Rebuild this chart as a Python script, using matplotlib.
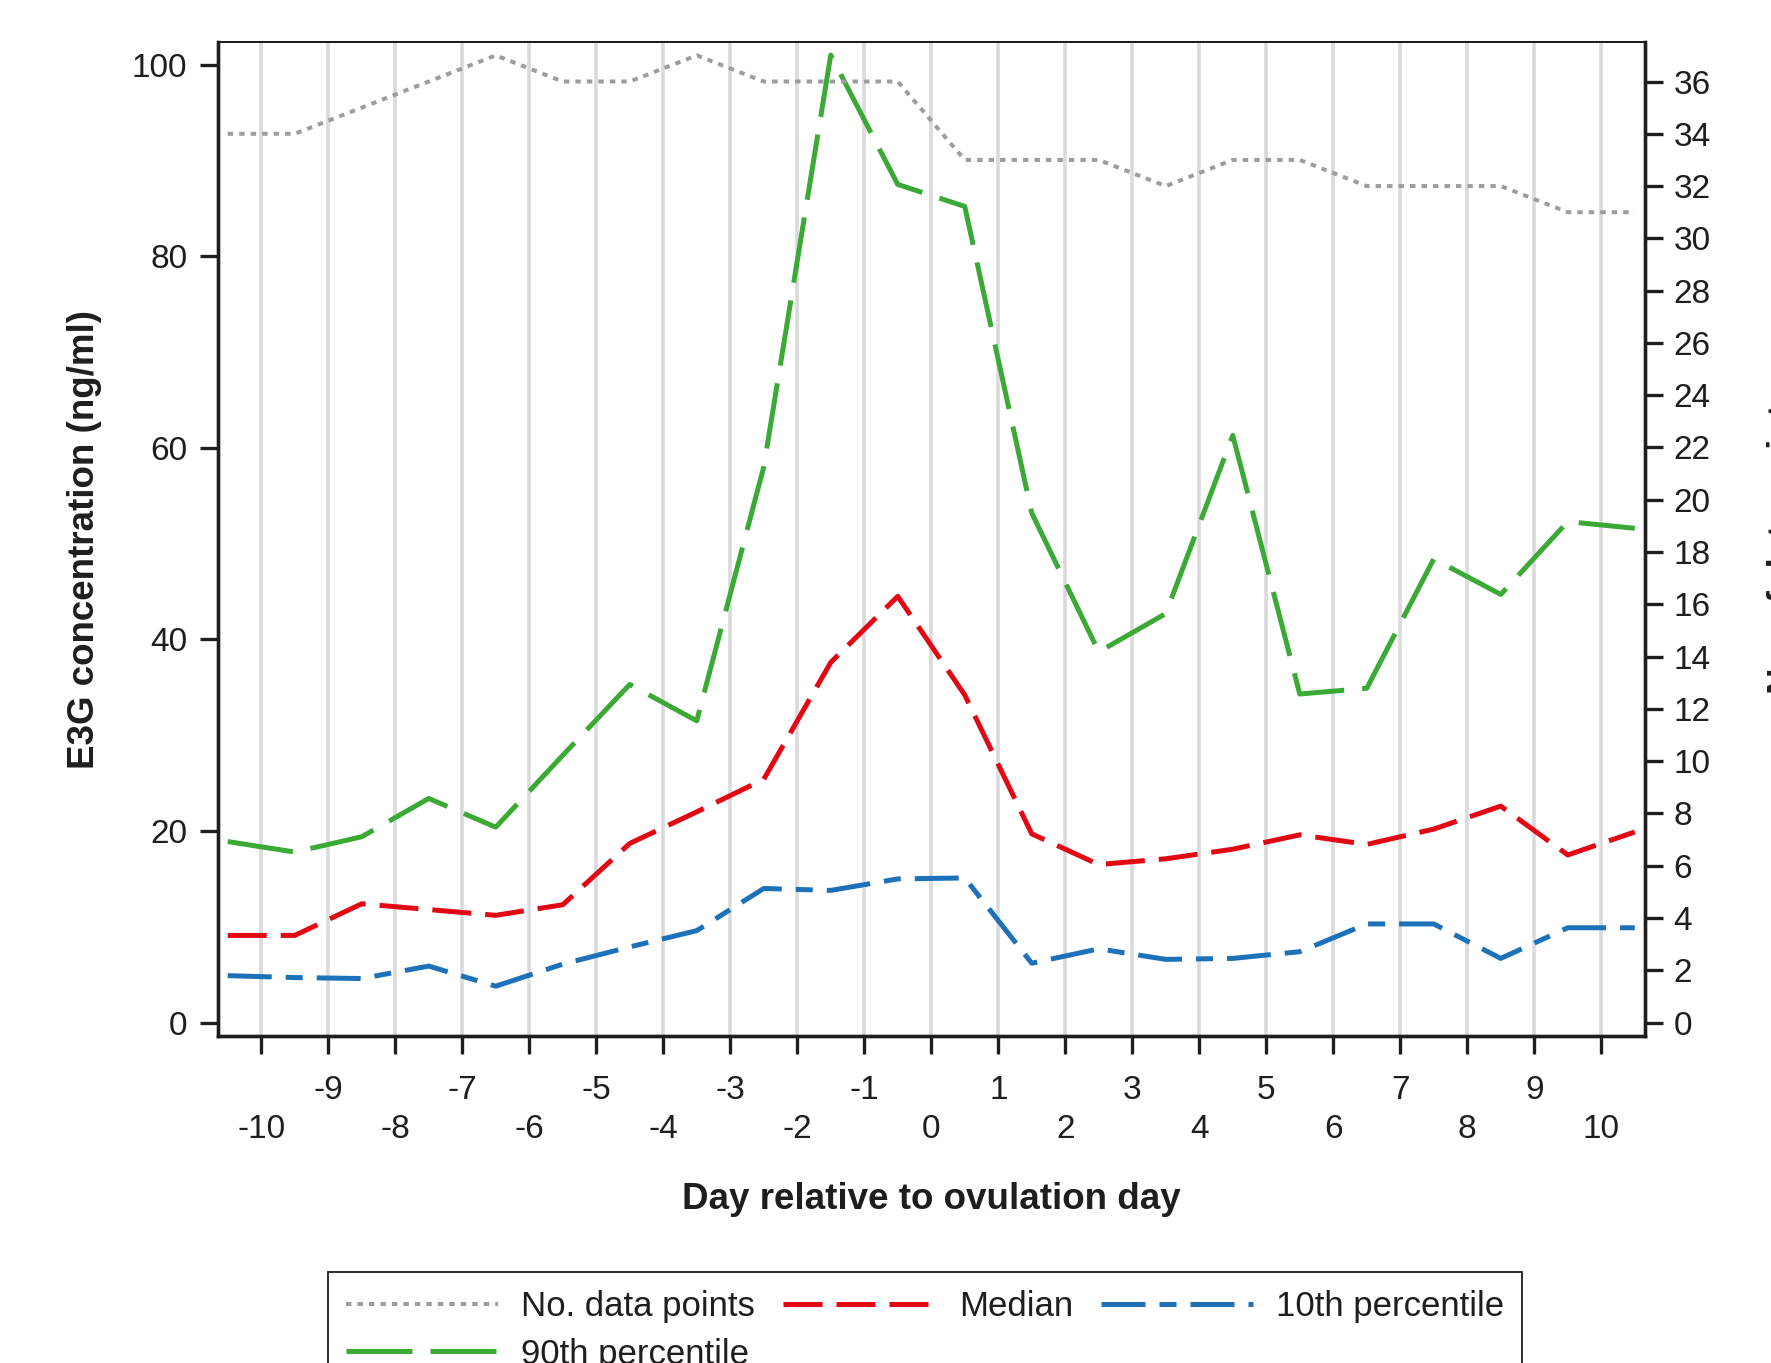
import numpy as np
import matplotlib
matplotlib.use("Agg")
import matplotlib.pyplot as plt

plt.rcParams['font.family'] = ['Liberation Sans', 'DejaVu Sans']

# day relative to ovulation (half-day positions between the gridlines)
days = [-10.5, -9.5, -8.5, -7.5, -6.5, -5.5, -4.5, -3.5, -2.5, -1.5, -0.5,
        0.5, 1.5, 2.5, 3.5, 4.5, 5.5, 6.5, 7.5, 8.5, 9.5, 10.5]

# E3G concentration (ng/ml)
p90 = [18.9, 17.8, 19.4, 23.4, 20.4, 27.9, 35.3, 31.5, 58.0, 101.0, 87.5,
       85.2, 53.2, 38.7, 42.7, 61.3, 34.3, 34.9, 48.4, 44.7, 52.3, 51.6]
median = [9.1, 9.1, 12.4, 11.8, 11.2, 12.3, 18.7, 22.0, 25.4, 37.6, 44.5,
          34.2, 19.7, 16.5, 17.1, 18.1, 19.6, 18.6, 20.2, 22.6, 17.5, 19.9]
p10 = [4.9, 4.7, 4.6, 5.9, 3.8, 6.1, 7.9, 9.6, 14.0, 13.8, 15.0,
       15.1, 6.2, 7.7, 6.6, 6.7, 7.4, 10.3, 10.3, 6.7, 9.9, 9.9]

# number of data points per day (right axis)
n_points = [34, 34, 35, 36, 37, 36, 36, 37, 36, 36, 36,
            33, 33, 33, 32, 33, 33, 32, 32, 32, 31, 31]

tick_days = list(range(-10, 11))
left_ticks = [0, 20, 40, 60, 80, 100]
right_ticks = list(range(0, 37, 2))

W, H = 1771, 1363
fig = plt.figure(figsize=(W / 100, H / 100), dpi=100)
ax = fig.add_axes([218 / W, 1 - 1036 / H, (1644.5 - 218) / W, (1036 - 41.7) / H])
ax2 = ax.twinx()

dark = '#1e1e1e'
lw_data = 3.6

l_med, = ax.plot(days, median, color='#e30613', lw=lw_data,
                 linestyle=(0, (7.8, 2.8)), label='Median')
l_90, = ax.plot(days, p90, color='#3aaa35', lw=lw_data,
                linestyle=(0, (13.2, 3.6)), label='90th percentile')
l_10, = ax.plot(days, p10, color='#1d71b8', lw=lw_data,
                linestyle=(0, (8.8, 2.8, 3.4, 2.8)), label='10th percentile')
l_n, = ax2.plot(days, n_points, color='#9d9d9c', lw=2.9,
                linestyle=(0, (1.35, 1.5)), label='No. data points')

ax.set_xlim(-10.645, 10.645)
ax.set_ylim(-1.4, 102.4)
ax2.set_ylim(-1.4 / 2.729, 102.4 / 2.729)

# odd days on the first row, even days on the second
ax.set_xticks(tick_days)
ax.set_xticklabels([str(d) if d % 2 else '\n' + str(d) for d in tick_days])
for t in ax.get_xticklabels():
    t.set_linespacing(1.34)
ax.set_yticks(left_ticks)
ax.set_yticklabels([str(v) for v in left_ticks])
ax2.set_yticks(right_ticks)
ax2.set_yticklabels([str(v) for v in right_ticks])

ax.set_axisbelow(True)
ax.grid(axis='x', color='#dadada', lw=2.6)
ax.grid(axis='y', visible=False)

ax.tick_params(axis='x', direction='out', length=13, width=2.4, color=dark,
               labelsize=24, pad=15, labelcolor=dark)
ax.tick_params(axis='y', direction='out', length=13, width=2.4, color=dark,
               labelsize=24, pad=9, labelcolor=dark)
ax2.tick_params(axis='y', direction='out', length=13, width=2.4, color=dark,
                labelsize=24, pad=8, labelcolor=dark)

for a in (ax, ax2):
    for side, sp in a.spines.items():
        sp.set_color(dark)
        sp.set_linewidth(1.4 if side == 'top' else 2.4)

fig.text((218 + 1644.5) / 2 / W, 1 - 1199.5 / H, 'Day relative to ovulation day',
         ha='center', va='center', fontsize=26.5, fontweight='bold', color=dark)
fig.text(85 / W, 1 - 539 / H, 'E3G concentration (ng/ml)', rotation=90,
         ha='center', va='center', fontsize=26.5, fontweight='bold', color=dark)
fig.text(1767 / W, 1 - 539 / H, 'No. of data points', rotation=90,
         ha='left', va='center', fontsize=26.5, fontweight='bold', color=dark)

leg = fig.legend([l_n, l_90, l_med, l_10],
                 ['No. data points', '90th percentile', 'Median', '10th percentile'],
                 ncol=3, loc='upper left', bbox_to_anchor=(327.6 / W, 1 - 1272 / H),
                 bbox_transform=fig.transFigure, borderaxespad=0, fontsize=25,
                 handlelength=4.4, handletextpad=0.66, columnspacing=0.8,
                 labelspacing=0.42, borderpad=0.52, fancybox=False, framealpha=1)
leg.get_frame().set_edgecolor(dark)
leg.get_frame().set_linewidth(1.3)
for t in leg.get_texts():
    t.set_color(dark)

fig.savefig('out.png', dpi=100)
